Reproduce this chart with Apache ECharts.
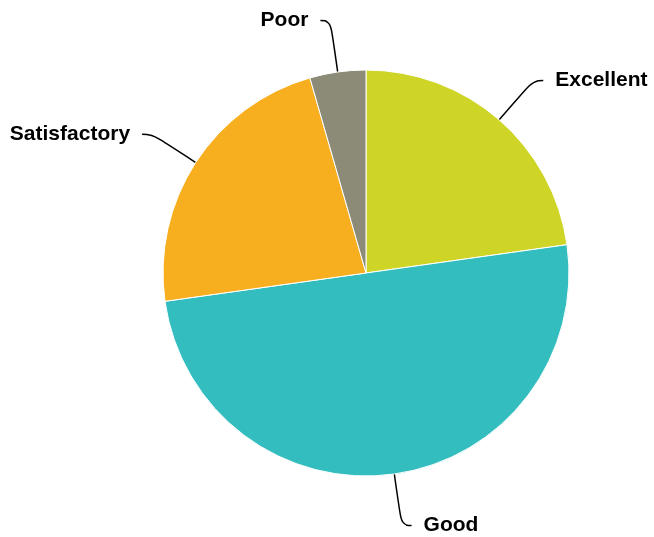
<!DOCTYPE html>
<html>
<head>
<meta charset="utf-8">
<script src="https://cdn.jsdelivr.net/npm/echarts@6/dist/echarts.min.js"></script>
<style>html,body{margin:0;padding:0;background:#fff;}#c{width:654px;height:537px;}</style>
</head>
<body>
<div id="c"></div>
<script>
var categories = ['Excellent', 'Good', 'Satisfactory', 'Poor'];
var values = [46, 101, 46, 9];
var colors = ['#cfd527', '#33bdbf', '#f7ae1f', '#8b8b78'];

var chart = echarts.init(document.getElementById('c'), null, {renderer: 'canvas'});
chart.setOption({
  animation: false,
  series: [{
    type: 'pie',
    center: [366, 273],
    radius: 203,
    startAngle: 90,
    clockwise: true,
    avoidLabelOverlap: false,
    data: categories.map(function (c, i) {
      return {name: c, value: values[i], itemStyle: {color: colors[i]}};
    }),
    itemStyle: {borderColor: '#ffffff', borderWidth: 1},
    label: {
      show: true,
      formatter: '{b}',
      color: '#000',
      fontFamily: 'Liberation Sans, Arial, sans-serif',
      fontWeight: 'bold',
      fontSize: 21,
      distanceToLabelLine: 12
    },
    labelLine: {
      show: true,
      length: 52,
      length2: 10,
      smooth: 0.5,
      lineStyle: {color: '#000', width: 1.5}
    },
    emphasis: {disabled: true}
  }]
});
</script>
</body>
</html>
